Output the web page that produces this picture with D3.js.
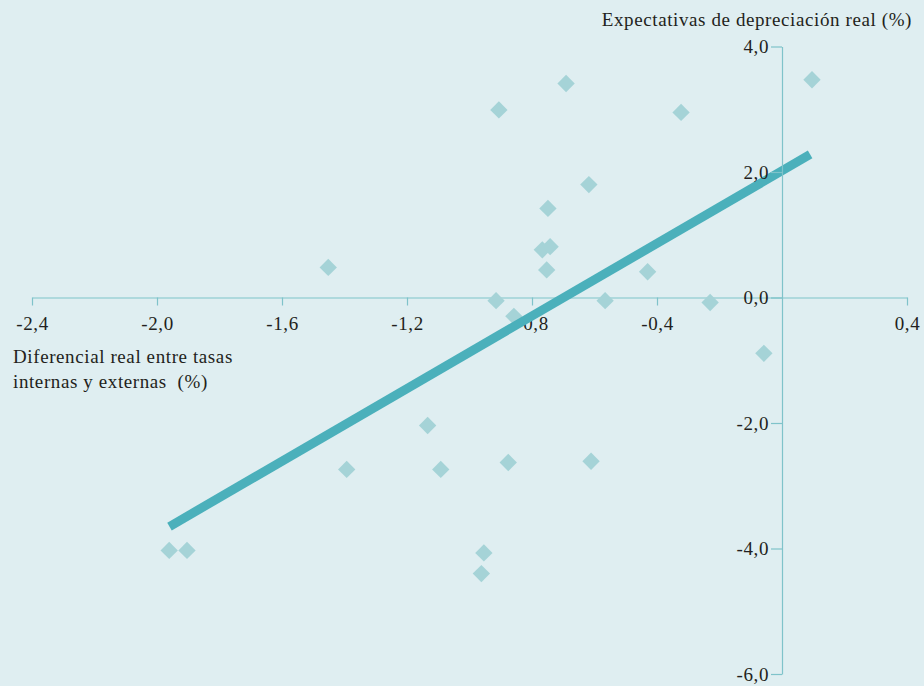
<!DOCTYPE html>
<html>
<head>
<meta charset="utf-8">
<script src="https://cdn.jsdelivr.net/npm/d3@7"></script>
<style>
  html, body { margin: 0; padding: 0; background: #dfeef1; }
  svg { display: block; }
  text { font-family: "Liberation Serif", "Times New Roman", serif; fill: #231f20; letter-spacing: 0.6px; }
</style>
</head>
<body>
<svg id="chart" width="924" height="686"></svg>
<script>
// Real interest differential (x) vs. expected real depreciation (y), in %
const diffReal = [0.096, -0.691, -0.906, -0.323, -0.618, -0.749, -0.767, -0.742, -0.753,
  -1.452, -0.430, -0.915, -0.566, -0.858, -0.230, -0.058, -1.134, -1.393, -1.092,
  -0.876, -0.611, -1.961, -1.904, -0.954, -0.962];
const expDepr = [3.47, 3.41, 2.99, 2.95, 1.80, 1.42, 0.76, 0.81, 0.44,
  0.48, 0.41, -0.05, -0.05, -0.30, -0.08, -0.89, -2.04, -2.74, -2.74,
  -2.63, -2.61, -4.03, -4.03, -4.07, -4.40];

// Fitted trend line endpoints
const trendX = [-1.96, 0.09];
const trendY = [-3.65, 2.28];

const xTicks = [-2.4, -2.0, -1.6, -1.2, -0.8, -0.4, 0.0, 0.4];
const yTicks = [-6.0, -4.0, -2.0, 0.0, 2.0, 4.0];

const yTitle = "Expectativas de depreciación real (%)";
const xTitle = ["Diferencial real entre tasas", "internas y externas  (%)"];

const axisColor = "#7fc3ca";
const pointColor = "#a5d3d7";
const lineColor = "#4bb0bb";
const fontSize = 19;

const svg = d3.select("#chart");
const x = d3.scaleLinear().domain([-2.4, 0.4]).range([32, 907]);
const y = d3.scaleLinear().domain([-6, 4]).range([674, 46.5]);
const fmt = v => d3.format(".1f")(v).replace(".", ",").replace("−", "-");

// Horizontal axis through y = 0
const gx = svg.append("g").attr("transform", `translate(0,${y(0)})`)
  .call(d3.axisBottom(x).tickValues(xTicks).tickSize(8).tickSizeOuter(0).tickPadding(11).tickFormat(fmt));
gx.select(".domain").attr("stroke", axisColor).attr("stroke-width", 1.2);
gx.selectAll(".tick line").attr("stroke", axisColor).attr("stroke-width", 1.2);
gx.selectAll(".tick text").attr("font-size", fontSize).attr("font-family", "Liberation Serif").attr("fill", "#231f20");
gx.selectAll(".tick").filter(d => d === 0).remove();

// Points
const pts = diffReal.map((d, i) => ({ x: d, y: expDepr[i] }));
svg.append("g").selectAll("path").data(pts).join("path")
  .attr("d", d3.symbol().type(d3.symbolSquare).size(150))
  .attr("transform", d => `translate(${x(d.x)},${y(d.y)}) rotate(45)`)
  .attr("fill", pointColor);

// Trend line
svg.append("line")
  .attr("x1", x(trendX[0])).attr("y1", y(trendY[0]))
  .attr("x2", x(trendX[1])).attr("y2", y(trendY[1]))
  .attr("stroke", lineColor).attr("stroke-width", 9);

// Vertical axis through x = 0
const gy = svg.append("g").attr("transform", `translate(${x(0)},0)`)
  .call(d3.axisLeft(y).tickValues(yTicks).tickSize(11).tickSizeOuter(0).tickPadding(2).tickFormat(fmt));
gy.select(".domain").attr("stroke", axisColor).attr("stroke-width", 1.2);
gy.selectAll(".tick line").attr("stroke", axisColor).attr("stroke-width", 1.2);
gy.selectAll(".tick text").attr("font-size", fontSize).attr("font-family", "Liberation Serif").attr("fill", "#231f20");

// Axis titles
svg.append("text").attr("x", 912).attr("y", 26).attr("text-anchor", "end")
  .attr("font-size", fontSize).text(yTitle);
svg.append("text").attr("x", 13).attr("y", 363).attr("font-size", fontSize)
  .style("white-space", "pre")
  .selectAll("tspan").data(xTitle).join("tspan")
  .attr("x", 13).attr("dy", (d, i) => i === 0 ? 0 : 25).text(d => d);
</script>
</body>
</html>
